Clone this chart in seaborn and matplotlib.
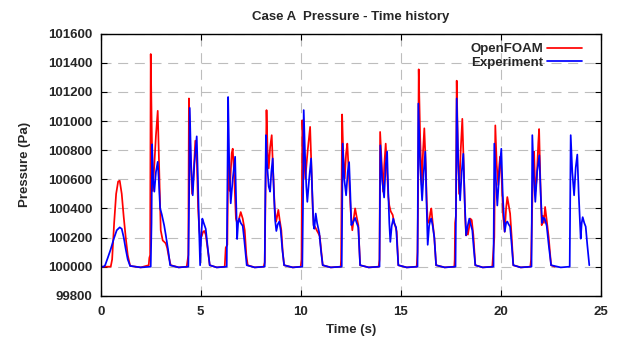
import numpy as np
import pandas as pd
import seaborn as sns
import matplotlib
matplotlib.use("Agg")
import matplotlib.pyplot as plt

# OpenFOAM simulation: time (s) and pressure (Pa)
openfoam_t = [
    0.0, 0.5, 0.57, 0.67, 0.77, 0.87, 0.95, 1.05, 1.15, 1.25, 1.35, 1.47, 2.0,
    2.4, 2.43, 2.47, 2.5, 2.55, 2.6, 2.68, 2.76, 2.85, 2.9, 2.97, 3.0, 3.1, 3.18,
    3.25, 3.32, 3.4, 3.5, 3.9,
    4.3, 4.35, 4.38, 4.41, 4.48, 4.57, 4.63, 4.73, 4.8, 4.87, 4.93, 4.98, 5.05,
    5.12, 5.18, 5.25, 5.35, 5.45, 5.8,
    6.2, 6.25, 6.33, 6.37, 6.45, 6.55, 6.6, 6.68, 6.76, 6.82, 6.9, 7.0, 7.1, 7.2,
    7.28, 7.35, 7.7,
    8.15, 8.2, 8.24, 8.29, 8.34, 8.4, 8.47, 8.55, 8.62, 8.7, 8.77, 8.83, 8.88,
    8.95, 9.03, 9.1, 9.17, 9.6,
    10.0, 10.04, 10.08, 10.15, 10.23, 10.35, 10.47, 10.53, 10.6, 10.65, 10.73,
    10.8, 10.88, 10.95, 11.03, 11.1, 11.5,
    12.0, 12.02, 12.04, 12.07, 12.13, 12.2, 12.27, 12.33, 12.4, 12.5, 12.58,
    12.65, 12.72, 12.8, 12.88, 12.97, 13.4,
    13.9, 13.94, 13.97, 14.05, 14.12, 14.18, 14.25, 14.32, 14.38, 14.43, 14.5,
    14.6, 14.67, 14.72, 14.8, 14.88, 15.3,
    15.8, 15.84, 15.87, 15.9, 15.97, 16.05, 16.12, 16.18, 16.25, 16.3, 16.35,
    16.42, 16.48, 16.53, 16.6, 16.68, 16.77, 17.2,
    17.68, 17.7, 17.72, 17.76, 17.8, 17.86, 17.92, 18.0, 18.08, 18.15, 18.22,
    18.27, 18.32, 18.36, 18.42, 18.48, 18.55, 18.63, 18.73, 19.1,
    19.58, 19.63, 19.68, 19.73, 19.8, 19.88, 19.93, 19.97, 20.05, 20.12, 20.2,
    20.27, 20.33, 20.4, 20.47, 20.55, 20.63, 21.0,
    21.48, 21.52, 21.56, 21.62, 21.67, 21.73, 21.8, 21.88, 21.92, 21.98, 22.05,
    22.1, 22.16, 22.22, 22.3, 22.4, 22.52, 22.7,
]
openfoam_p = [
    100000, 100000, 100050, 100300, 100500, 100585, 100590, 100500, 100340,
    100200, 100080, 100005, 99995,
    100010, 100060, 100080, 101460, 100950, 100520, 100700, 100900, 101070,
    100800, 100400, 100250, 100180, 100170, 100160, 100130, 100070, 100010, 99995,
    100000, 100050, 100080, 101155, 100800, 100500, 100600, 100865, 100750,
    100400, 100250, 100190, 100210, 100240, 100245, 100220, 100120, 100010, 99995,
    100000, 100130, 100150, 100700, 100520, 100780, 100810, 100600, 100330,
    100300, 100320, 100375, 100330, 100250, 100080, 100010, 99995,
    100000, 100030, 100500, 101075, 100800, 100675, 100820, 100903, 100650,
    100400, 100310, 100350, 100390, 100320, 100250, 100100, 100010, 99995,
    100000, 100050, 101005, 100800, 100605, 100800, 100960, 100700, 100400,
    100285, 100270, 100250, 100230, 100210, 100100, 100010, 99995,
    100000, 100050, 100450, 101045, 100750, 100605, 100780, 100845, 100650,
    100380, 100250, 100330, 100400, 100340, 100285, 100010, 99995,
    100000, 100050, 100925, 100700, 100515, 100700, 100845, 100650, 100480,
    100420, 100380, 100355, 100300, 100285, 100240, 100010, 99995,
    100000, 100100, 100500, 101355, 100900, 100560, 100800, 100950, 100700,
    100450, 100310, 100300, 100370, 100400, 100300, 100200, 100010, 99995,
    100000, 100050, 100300, 100350, 101277, 100800, 100500, 100800, 101015,
    100700, 100350, 100215, 100260, 100220, 100270, 100330, 100320, 100220,
    100010, 99995,
    100000, 100100, 100200, 100970, 100700, 100560, 100700, 100755, 100600,
    100350, 100240, 100400, 100478, 100420, 100365, 100200, 100010, 99995,
    100000, 100050, 100300, 100700, 100790, 100515, 100600, 100850, 100945,
    100600, 100285, 100350, 100300, 100410, 100320, 100200, 100010, 100000,
]

# Experiment measurements: time (s) and pressure (Pa)
experiment_t = [
    0.0, 0.15, 0.22, 0.35, 0.5, 0.65, 0.8, 0.95, 1.05, 1.15, 1.25, 1.35, 1.47, 2.0,
    2.5, 2.54, 2.57, 2.62, 2.68, 2.76, 2.85, 2.9, 2.97, 3.05, 3.17, 3.25, 3.38,
    3.47, 3.9,
    4.38, 4.42, 4.45, 4.52, 4.6, 4.68, 4.8, 4.86, 4.92, 4.97, 5.02, 5.08, 5.15,
    5.25, 5.35, 5.45, 5.8,
    6.3, 6.33, 6.37, 6.42, 6.5, 6.6, 6.72, 6.77, 6.82, 6.87, 6.93, 7.0, 7.1,
    7.18, 7.3, 7.7,
    8.2, 8.23, 8.26, 8.32, 8.4, 8.47, 8.53, 8.6, 8.66, 8.72, 8.78, 8.85, 8.93,
    9.0, 9.08, 9.17, 9.6,
    10.08, 10.12, 10.15, 10.22, 10.28, 10.33, 10.42, 10.52, 10.58, 10.64, 10.68,
    10.75, 10.82, 10.93, 11.02, 11.1, 11.5,
    12.05, 12.08, 12.1, 12.18, 12.27, 12.35, 12.42, 12.48, 12.53, 12.6, 12.67,
    12.72, 12.8, 12.88, 12.97, 13.4,
    13.94, 13.98, 14.07, 14.17, 14.25, 14.32, 14.38, 14.43, 14.48, 14.55, 14.63,
    14.7, 14.77, 14.88, 15.3,
    15.84, 15.88, 15.97, 16.07, 16.15, 16.23, 16.29, 16.35, 16.42, 16.48, 16.53,
    16.6, 16.68, 16.77, 17.2,
    17.74, 17.77, 17.8, 17.88, 17.97, 18.05, 18.13, 18.2, 18.27, 18.35, 18.43,
    18.5, 18.58, 18.65, 18.73, 19.1,
    19.64, 19.68, 19.76, 19.83, 19.93, 20.03, 20.1, 20.2, 20.27, 20.33, 20.4,
    20.47, 20.55, 20.63, 21.0,
    21.54, 21.58, 21.66, 21.73, 21.82, 21.93, 22.0, 22.07, 22.13, 22.2, 22.3,
    22.4, 22.52, 23.0,
    23.45, 23.5, 23.58, 23.67, 23.75, 23.83, 23.9, 24.0, 24.05, 24.1, 24.18,
    24.25, 24.33, 24.43,
]
experiment_p = [
    100000, 100000, 100010, 100060, 100120, 100190, 100250, 100270, 100260,
    100200, 100120, 100050, 100005, 99995,
    100000, 100300, 100840, 100600, 100515, 100650, 100720, 100600, 100400,
    100360, 100285, 100220, 100105, 100010, 99995,
    100000, 100500, 101090, 100700, 100490, 100700, 100895, 100600, 100250,
    100010, 100200, 100330, 100300, 100260, 100130, 100010, 99995,
    100000, 100500, 101165, 100750, 100435, 100600, 100755, 100450, 100190,
    100300, 100330, 100300, 100280, 100180, 100010, 99995,
    100000, 100500, 100903, 100700, 100550, 100515, 100650, 100743, 100500,
    100320, 100245, 100290, 100310, 100250, 100120, 100010, 99995,
    100000, 100500, 101075, 100750, 100550, 100445, 100600, 100743, 100500,
    100285, 100260, 100365, 100300, 100230, 100100, 100010, 99995,
    100000, 100500, 100845, 100600, 100490, 100650, 100718, 100500, 100285,
    100300, 100320, 100335, 100300, 100270, 100010, 99995,
    100000, 100833, 100600, 100475, 100700, 100790, 100500, 100300, 100170,
    100280, 100330, 100290, 100270, 100010, 99995,
    100000, 101120, 100700, 100455, 100650, 100790, 100450, 100150, 100280,
    100320, 100330, 100280, 100200, 100010, 99995,
    100000, 100500, 101155, 100700, 100455, 100650, 100775, 100450, 100215,
    100280, 100330, 100290, 100250, 100130, 100010, 99995,
    100000, 100845, 100600, 100420, 100650, 100810, 100500, 100240, 100300,
    100310, 100290, 100275, 100150, 100010, 99995,
    100000, 100903, 100600, 100445, 100650, 100765, 100500, 100300, 100335,
    100330, 100280, 100150, 100010, 99995,
    100000, 100903, 100650, 100490, 100680, 100770, 100500, 100192, 100300,
    100340, 100300, 100275, 100150, 100010,
]

x_ticks = [0, 5, 10, 15, 20, 25]
y_ticks = [99800, 100000, 100200, 100400, 100600, 100800, 101000, 101200,
           101400, 101600]

sim = pd.DataFrame({"t": openfoam_t, "p": openfoam_p, "series": "OpenFOAM"})
exp = pd.DataFrame({"t": experiment_t, "p": experiment_p, "series": "Experiment"})
data = pd.concat([sim, exp], ignore_index=True)

sns.set_theme(style="white")
plt.rcParams["font.family"] = ["Liberation Sans", "DejaVu Sans"]
plt.rcParams["font.weight"] = "bold"

fig = plt.figure(figsize=(6.18, 3.40), dpi=100)
ax = fig.add_axes([0.163, 0.130, 0.809, 0.771])

sns.lineplot(data=data, x="t", y="p", hue="series",
             hue_order=["OpenFOAM", "Experiment"],
             palette={"OpenFOAM": "#ff0000", "Experiment": "#0000ff"},
             estimator=None, sort=False, linewidth=1.25, ax=ax)

ax.set_xlim(0, 25)
ax.set_ylim(99800, 101600)
ax.set_xticks(x_ticks)
ax.set_yticks(y_ticks)
ax.set_xticklabels([str(v) for v in x_ticks], fontsize=9.5, fontweight="bold")
ax.set_yticklabels([str(v) for v in y_ticks], fontsize=9.5, fontweight="bold")

ax.grid(True, color="#bdbdbd", linestyle=(0, (9, 6)), linewidth=0.8)
ax.set_axisbelow(True)
for s in ax.spines.values():
    s.set_color("black")
    s.set_linewidth(1.0)
ax.tick_params(direction="in", length=4, width=0.8, color="black",
               top=True, right=True, bottom=True, left=True)
ax.tick_params(axis="x", pad=7)
ax.tick_params(axis="y", pad=6)

ax.set_title("Case A  Pressure - Time history", fontsize=9.5,
             fontweight="bold", pad=10)
ax.set_xlabel("Time (s)", fontsize=9.5, fontweight="bold", labelpad=5)
ax.set_ylabel("Pressure (Pa)", fontsize=9.5, fontweight="bold", labelpad=12)

handles, labels = ax.get_legend_handles_labels()
leg = ax.legend(handles, labels, loc="upper right",
                bbox_to_anchor=(0.982, 1.0), frameon=False,
                markerfirst=False, handlelength=2.7, handletextpad=0.25,
                labelspacing=0.1, borderaxespad=0.3,
                prop={"weight": "bold", "size": 9.5})

fig.savefig("out.png", dpi=100)
